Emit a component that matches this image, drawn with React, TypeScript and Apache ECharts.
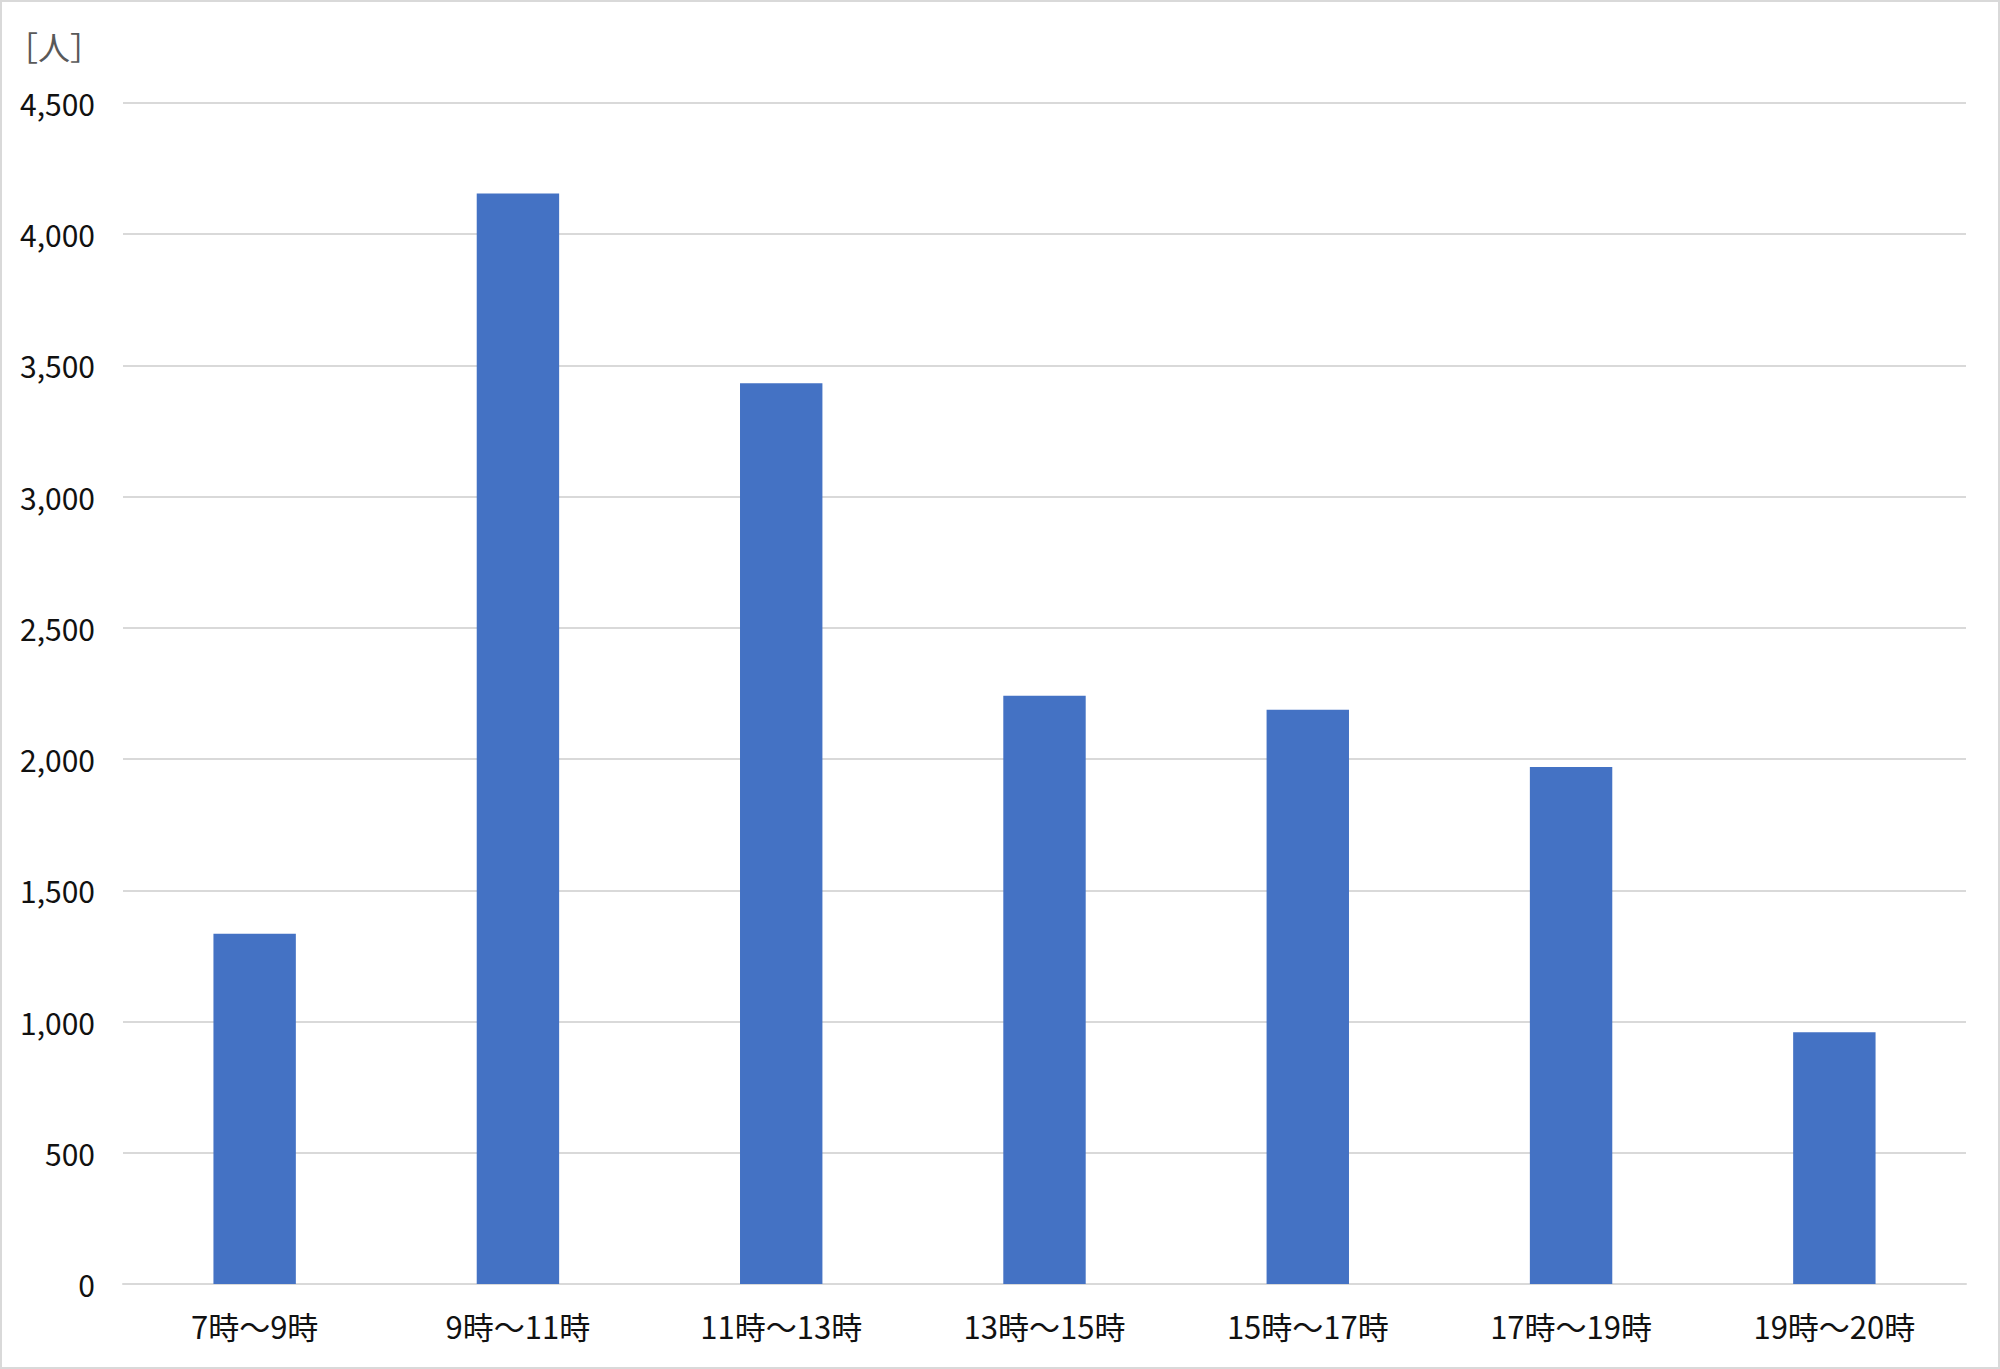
import React, { useEffect, useRef } from "react";
import * as echarts from "echarts";

const categories = ["7時～9時", "9時～11時", "11時～13時", "13時～15時", "15時～17時", "17時～19時", "19時～20時"];
const values = [1335, 4155, 3432, 2241, 2188, 1970, 959];
const yMin = 0;
const yMax = 4500;
const yInterval = 500;
const unitLabel = "［人］";

export default function App() {
  const ref = useRef<HTMLDivElement>(null);
  useEffect(() => {
    if (!ref.current) return;
    const chart = echarts.init(ref.current, null, { renderer: "svg" });
    const font = "'Noto Sans CJK JP', 'Noto Sans', sans-serif";
    chart.setOption({
      animation: false,
      backgroundColor: "#ffffff",
      grid: { left: 121, right: 32, top: 101, bottom: 83, containLabel: false },
      graphic: [
        {
          type: "text",
          left: 4,
          top: 28,
          style: { text: unitLabel, fill: "#595959", font: `32px ${font}` },
        },
      ],
      xAxis: {
        type: "category",
        data: categories,
        axisLine: { show: true, lineStyle: { color: "#d9d9d9", width: 2 } },
        axisTick: { show: false },
        axisLabel: { color: "#111", fontSize: 31, fontFamily: font, margin: 26 },
      },
      yAxis: {
        type: "value",
        min: yMin,
        max: yMax,
        interval: yInterval,
        axisLine: { show: false },
        axisTick: { show: false },
        splitLine: { lineStyle: { color: "#d9d9d9", width: 2 } },
        axisLabel: {
          color: "#111",
          fontSize: 30,
          fontFamily: font,
          margin: 28,
          formatter: (v: number) => v.toLocaleString("en-US"),
        },
      },
      series: [
        {
          type: "bar",
          data: values,
          barWidth: "31.3%",
          itemStyle: { color: "#4472c4" },
        },
      ],
    });
    return () => chart.dispose();
  }, []);
  return (
    <div
      ref={ref}
      style={{
        position: "fixed",
        left: 0,
        top: 0,
        width: 2000,
        height: 1369,
        boxSizing: "border-box",
        border: "2px solid #d9d9d9",
        background: "#fff",
      }}
    />
  );
}
